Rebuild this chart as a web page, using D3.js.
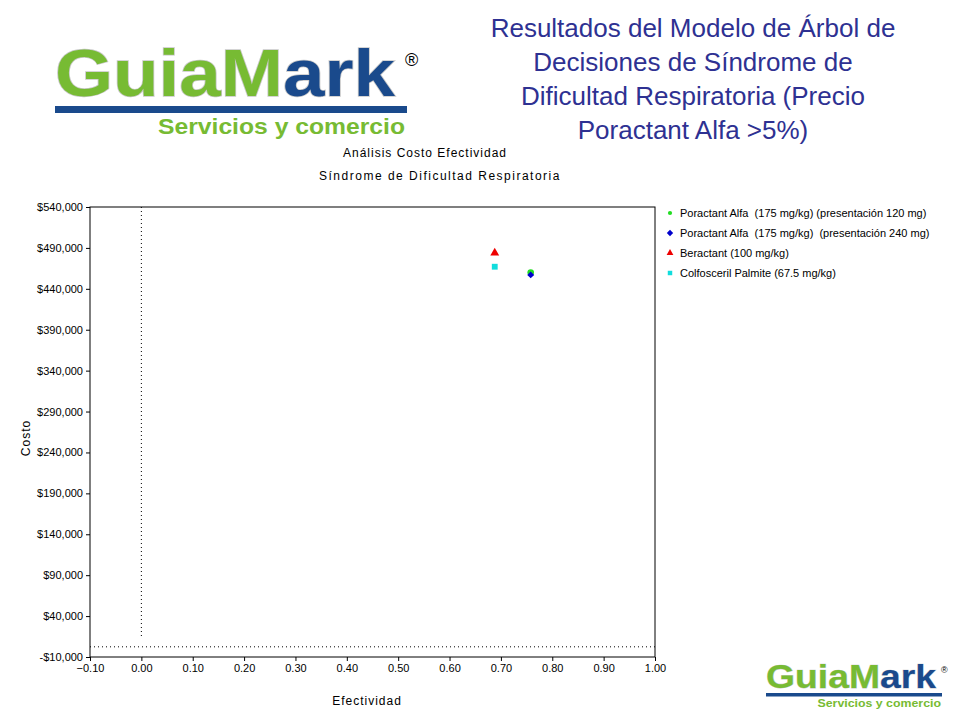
<!DOCTYPE html>
<html><head><meta charset="utf-8">
<script src="https://cdn.jsdelivr.net/npm/d3@7"></script>
<style>body{margin:0;background:#fff}</style>
</head><body>
<svg id="c" width="960" height="720"></svg>
<script>
const series = ["Poractant Alfa  (175 mg/kg) (presentación 120 mg)", "Poractant Alfa  (175 mg/kg)  (presentación 240 mg)", "Beractant (100 mg/kg)", "Colfosceril Palmite (67.5 mg/kg)"];
const efectividad = [0.758, 0.758, 0.688, 0.688];
const costo = [460000, 457000, 484000, 467000];
const colores = ["#22dd22", "#0000cc", "#ee0000", "#11dddd"];
const simbolos = [d3.symbolCircle, d3.symbolSquare, d3.symbolTriangle, d3.symbolSquare];
const xTicks = d3.range(-0.1, 1.001, 0.1);
const yTicks = d3.range(-10000, 540001, 50000);

const svg = d3.select("#c");
const M = {left: 90, right: 655, top: 207, bottom: 657};

// logo
const logo = (x, y, s) => {
  const g = svg.append("g").attr("transform", `translate(${x},${y}) scale(${s})`)
    .style("font-family", "Arial, Liberation Sans, sans-serif").style("font-weight", "bold");
  const t = g.append("text").attr("font-size", 66).attr("y", 0).attr("textLength", 340).attr("lengthAdjust", "spacingAndGlyphs")
    .attr("stroke", "#c8c8c8").attr("stroke-width", 1.5).attr("paint-order", "stroke");
  t.append("tspan").attr("fill", "#77bb33").text("Guia");
  t.append("tspan").attr("fill", "#77bb33").text("M");
  t.append("tspan").attr("fill", "#1a4a8c").text("ark");
  g.append("text").attr("x", 350).attr("y", -30).attr("font-size", 18).attr("font-weight", "normal").text("®");
  g.append("rect").attr("x", 0).attr("y", 10).attr("width", 352).attr("height", 7).attr("fill", "#1a4a8c");
  g.append("text").attr("x", 103).attr("y", 38).attr("font-size", 22).attr("fill", "#77bb33")
    .attr("textLength", 247).attr("lengthAdjust", "spacingAndGlyphs").text("Servicios y comercio");
};
logo(55, 96, 1);
logo(766, 688, 0.5);

const title = ["Resultados del Modelo de Árbol de", "Decisiones de Síndrome de", "Dificultad Respiratoria (Precio", "Poractant Alfa >5%)"];
svg.append("g").selectAll("text").data(title).join("text")
  .attr("x", 693).attr("y", (d, i) => 37 + i * 34).attr("text-anchor", "middle")
  .attr("font-size", 26).attr("fill", "#2e3192").style("font-family", "Arial, Liberation Sans, sans-serif").text(d => d);

svg.append("text").attr("x", 425).attr("y", 157).attr("text-anchor", "middle").attr("font-size", 12).attr("letter-spacing", 1).style("font-family", "Arial, sans-serif").text("Análisis Costo Efectividad");
svg.append("text").attr("x", 440).attr("y", 180).attr("text-anchor", "middle").attr("font-size", 12).attr("letter-spacing", 1.5).style("font-family", "Arial, sans-serif").text("Síndrome de Dificultad Respiratoria");

const x = d3.scaleLinear().domain([-0.1, 1.0]).range([M.left, M.right]);
const y = d3.scaleLinear().domain([-10000, 540000]).range([M.bottom, M.top]);

svg.append("rect").attr("x", M.left).attr("y", M.top).attr("width", M.right - M.left).attr("height", M.bottom - M.top).attr("fill", "none").attr("stroke", "#000");

svg.append("line").attr("x1", x(0)).attr("x2", x(0)).attr("y1", M.top).attr("y2", M.bottom - 18).attr("stroke", "#000").attr("stroke-dasharray", "1,3");
svg.append("line").attr("x1", M.left).attr("x2", M.right).attr("y1", y(0) - 2).attr("y2", y(0) - 2).attr("stroke", "#000").attr("stroke-dasharray", "1,3");

const fmt = v => v < 0 ? "-$" + d3.format(",")(-v) : "$" + d3.format(",")(v);
svg.append("g").attr("transform", `translate(${M.left},0)`)
  .call(d3.axisLeft(y).tickValues(yTicks).tickFormat(fmt).tickSize(4))
  .call(g => g.select(".domain").remove())
  .selectAll("text").attr("font-size", 11).style("font-family", "Arial, sans-serif");
svg.append("g").attr("transform", `translate(0,${M.bottom})`)
  .call(d3.axisBottom(x).tickValues(xTicks).tickFormat(d3.format(".2f")).tickSize(4))
  .call(g => g.select(".domain").remove())
  .selectAll("text").attr("font-size", 11).style("font-family", "Arial, sans-serif");

svg.append("text").attr("x", 367).attr("y", 705).attr("text-anchor", "middle").attr("font-size", 12).attr("letter-spacing", 1).style("font-family", "Arial, sans-serif").text("Efectividad");
svg.append("text").attr("transform", "translate(30,438) rotate(-90)").attr("text-anchor", "middle").attr("font-size", 12).attr("letter-spacing", 1).style("font-family", "Arial, sans-serif").text("Costo");

// diamonds are rotated squares
const rot = i => i === 1 ? " rotate(45)" : "";
svg.append("g").selectAll("path").data(series).join("path")
  .attr("transform", (d, i) => `translate(${x(efectividad[i])},${y(costo[i])})${rot(i)}`)
  .attr("d", (d, i) => d3.symbol(simbolos[i], i === 1 ? 24 : 34)())
  .attr("fill", (d, i) => colores[i]);

const leg = svg.append("g").selectAll("g").data(series).join("g")
  .attr("transform", (d, i) => `translate(670,${213 + i * 20})`);
leg.append("path").attr("transform", (d, i) => rot(i)).attr("d", (d, i) => d3.symbol(simbolos[i], i === 0 ? 14 : 20)()).attr("fill", (d, i) => colores[i]);
leg.append("text").attr("x", 10).attr("y", 4).attr("font-size", 11).attr("xml:space", "preserve").style("font-family", "Arial, sans-serif").text(d => d);
</script>
</body></html>
